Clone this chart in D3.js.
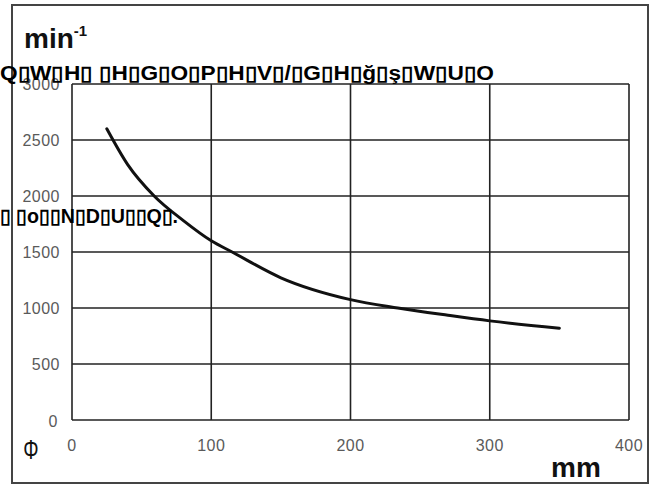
<!DOCTYPE html>
<html>
<head>
<meta charset="utf-8">
<script src="https://cdn.jsdelivr.net/npm/d3@7"></script>
<style>
  body { margin: 0; background: #fff; }
  svg { display: block; font-family: "Liberation Sans", Arial, sans-serif; }
</style>
</head>
<body>
<div id="chart"></div>
<script>
const sizes = [25, 40, 59, 80, 100, 115, 150, 200, 234, 270, 300, 350];
const speeds = [2600, 2280, 2000, 1780, 1600, 1500, 1270, 1075, 1000, 935, 885, 820];
const xTicks = [0, 100, 200, 300, 400];
const yTicks = [0, 500, 1000, 1500, 2000, 2500, 3000];
const overlayLine1 = "Q▯W▯H▯ ▯H▯G▯O▯P▯H▯V▯/▯G▯H▯ğ▯ş▯W▯U▯O";
const overlayLine2 = "▯ ▯o▯▯N▯D▯U▯▯Q▯.";

const width = 651, height = 485;

const x = d3.scaleLinear().domain([0, 400]).range([72, 629]);
const y = d3.scaleLinear().domain([0, 3000]).range([420, 84]);

const svg = d3.select("#chart")
    .append("svg")
    .attr("width", width)
    .attr("height", height);

// outer frame
svg.append("rect")
    .attr("x", 12).attr("y", 5)
    .attr("width", 636).attr("height", 478)
    .attr("fill", "none")
    .attr("stroke", "#444")
    .attr("stroke-width", 2);

// grid
svg.selectAll(".vgrid")
    .data(xTicks)
    .enter()
    .append("line")
    .attr("x1", d => x(d)).attr("x2", d => x(d))
    .attr("y1", y(0)).attr("y2", y(3000))
    .attr("stroke", "#222")
    .attr("stroke-width", 1.6);

svg.selectAll(".hgrid")
    .data(yTicks)
    .enter()
    .append("line")
    .attr("x1", x(0)).attr("x2", x(400))
    .attr("y1", d => y(d)).attr("y2", d => y(d))
    .attr("stroke", "#222")
    .attr("stroke-width", 1.6);

// tick labels
svg.selectAll(".xlab")
    .data(xTicks)
    .enter()
    .append("text")
    .attr("x", d => x(d))
    .attr("y", 451)
    .attr("text-anchor", "middle")
    .attr("fill", "#5a5a5a")
    .attr("font-size", "16px")
    .attr("letter-spacing", "0.5px")
    .text(d => d);

svg.selectAll(".ylab")
    .data(yTicks)
    .enter()
    .append("text")
    .attr("x", d => d === 0 ? 58 : 60)
    .attr("y", d => y(d) + 6 + (d === 0 ? 1 : 0))
    .attr("text-anchor", "end")
    .attr("fill", "#5a5a5a")
    .attr("font-size", "16px")
    .attr("letter-spacing", "0.5px")
    .text(d => d);

// curve
const line = d3.line()
    .x((d, i) => x(sizes[i]))
    .y(d => y(d))
    .curve(d3.curveMonotoneX);

svg.append("path")
    .datum(speeds)
    .attr("fill", "none")
    .attr("stroke", "#111")
    .attr("stroke-width", 3)
    .attr("stroke-linecap", "round")
    .attr("d", line);

// unit labels
const unitY = svg.append("text")
    .attr("x", 24).attr("y", 48)
    .attr("font-size", "28px")
    .attr("font-weight", "bold")
    .attr("fill", "#111")
    .text("min");
unitY.append("tspan")
    .attr("dy", -12)
    .attr("font-size", "15px")
    .text("-1");

svg.append("text")
    .attr("x", 551).attr("y", 477)
    .attr("font-size", "28px")
    .attr("font-weight", "bold")
    .attr("fill", "#111")
    .text("mm");

svg.append("text")
    .attr("x", 31).attr("y", 458)
    .attr("text-anchor", "middle")
    .attr("font-size", "24px")
    .attr("fill", "#111")
    .attr("transform", "translate(31,450) scale(0.8,1.15) translate(-31,-450)")
    .text("Φ");

// overlaid text
svg.append("text")
    .attr("x", 0).attr("y", 80)
    .attr("font-size", "20px")
    .attr("font-weight", "bold")
    .attr("fill", "#000")
    .attr("textLength", 494)
    .attr("lengthAdjust", "spacingAndGlyphs")
    .text(overlayLine1);

svg.append("text")
    .attr("x", 0).attr("y", 223)
    .attr("font-size", "20px")
    .attr("font-weight", "bold")
    .attr("fill", "#000")
    .attr("textLength", 178)
    .attr("lengthAdjust", "spacingAndGlyphs")
    .text(overlayLine2);
</script>
</body>
</html>
